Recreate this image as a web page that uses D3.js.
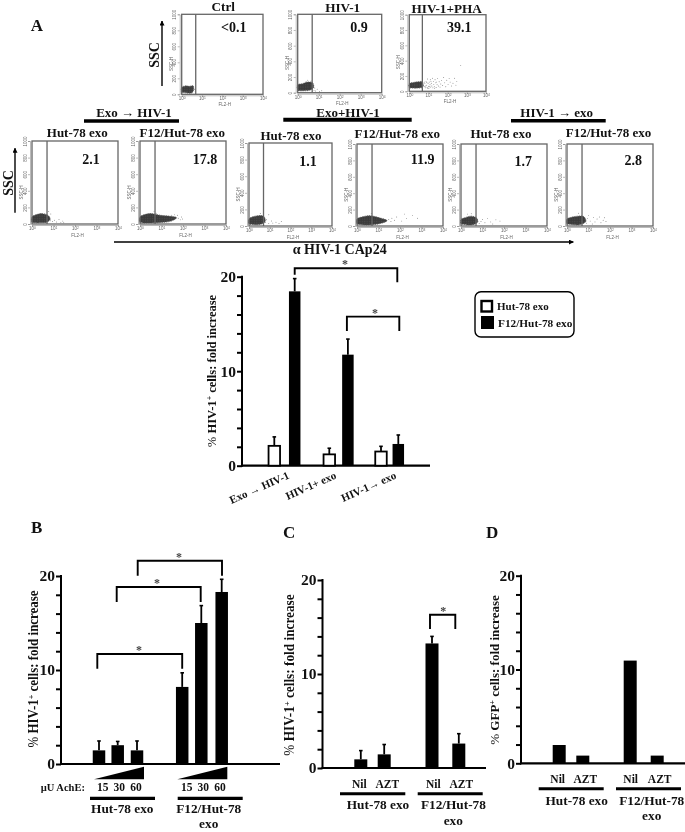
<!DOCTYPE html>
<html><head><meta charset="utf-8">
<script src="https://cdn.jsdelivr.net/npm/d3@7"></script>
<style>
html,body{margin:0;padding:0;background:#fff}
svg{display:block;filter:blur(0.35px)}
text{font-family:"Liberation Serif",serif;font-weight:bold;fill:#111}
.flow text{font-family:"Liberation Sans",sans-serif;font-weight:normal;fill:#666;font-size:4.5px}
.flow .domain,.flow line{stroke:#777;stroke-width:.5}
.bar .domain,.bar .tick line{stroke:#000;stroke-width:2}
</style></head><body><div id="c"></div>
<script>
// ---------- DATA ----------
const flowTitles = ["Ctrl","HIV-1","HIV-1+PHA","Hut-78 exo","F12/Hut-78 exo","Hut-78 exo","F12/Hut-78 exo","Hut-78 exo","F12/Hut-78 exo"];
const flowValues = ["<0.1","0.9","39.1","2.1","17.8","1.1","11.9","1.7","2.8"];
const flowGates = [4.9,4.9,4.8,5,5,5,5,5,5];
// density outlines and stray events, as [FL2-H, SSC-H]
const flowBlobs = [
 [[1.0,25],[1.0,85],[1.5,105],[2.4,100],[3.7,105],[3.8,50],[3.2,18],[2,15],[1.3,22]],
 [[1.0,35],[1.0,100],[1.7,115],[3,135],[5.2,125],[5.6,60],[3.5,30],[2,25],[1.3,25]],
 [[1.0,50],[1.0,100],[1.6,115],[3,125],[4.8,125],[5,55],[2.8,42],[1.5,42]],
 [[1.0,20],[1.0,85],[1.5,110],[3,125],[5.5,105],[7,60],[5,22],[2.6,14],[1.4,14]],
 [[1.0,20],[1.0,85],[1.5,110],[3.5,125],[9,105],[22,95],[50,75],[28,35],[9,18],[2.5,12],[1.4,12]],
 [[1.0,25],[1.0,85],[1.5,110],[3,125],[5.2,115],[6,55],[3.6,20],[2,15],[1.3,20]],
 [[1.0,25],[1.0,85],[1.7,110],[4,125],[11,100],[25,65],[12,30],[5,15],[2.2,12],[1.3,18]],
 [[1.0,25],[1.0,80],[1.5,100],[3,120],[5.2,100],[6,50],[3.5,15],[2,12],[1.3,20]],
 [[1.0,25],[1.0,85],[1.5,105],[3.2,120],[6,115],[7.5,55],[3.8,16],[2,15],[1.3,22]]
];
const flowDots = [
 [[4.2,60],[4.6,40]],
 [[6,30],[7,22],[8.5,45],[6.5,60],[11,16],[14,25],[5.6,85],[4.4,150],[3,160],[2.5,145]],
 [[6,60],[6.5,100],[7,45],[7.5,130],[8,80],[8.5,50],[9,160],[9.5,105],[10,65],[10.5,40],[11,120],[12,85],[12.5,150],[13,55],[14,105],[15,70],[16,170],[17,45],[18,130],[19,90],[20,60],[22,150],[24,110],[25,50],[28,85],[30,165],[33,70],[36,125],[40,55],[44,95],[48,140],[55,75],[62,180],[70,110],[80,60],[90,145],[105,90],[120,165],[135,120],[160,70],[190,105],[230,170],[270,80],[300,130],[480,335],[5.4,75],[6.2,120],[7.2,70],[8.2,115],[9.2,35],[11.5,60],[13.5,130],[21,35],[26,120]],
 [[6,150],[7,40],[9,30],[11,45],[14,25],[18,55],[22,20],[27,35],[30,15],[7.5,120]],
 [[4.5,155],[5.6,130],[60,70],[75,50],[85,85],[55,105],[40,110],[30,105],[95,60]],
 [[6.2,45],[7,75],[9,30],[9,135],[12,60],[14,35],[20,45],[28,30],[36,55],[5,155],[3.5,150]],
 [[4.6,150],[30,80],[38,55],[42,95],[55,70],[70,110],[120,60],[200,90],[380,130],[160,145],[650,95]],
 [[7,30],[8.5,55],[10,80],[13,40],[17,90],[24,50],[30,25],[42,75],[65,60],[3,150],[2,145]],
 [[8,35],[9,90],[10,130],[12,60],[15,25],[17,105],[20,50],[25,85],[32,110],[38,40],[48,70],[55,100],[65,55],[7.5,60],[3.5,155]]
];
const flowYTicks = [0,200,400,600,800,1000];
const flowXTicks = [1,10,100,1000,10000];
const flowSup = ["0","1","2","3","4"];

const groupHeadings = ["Exo → HIV-1","Exo+HIV-1","HIV-1 → exo"];
const bigArrowLabel = "α HIV-1 CAp24";
const panelLetters = ["A","B","C","D"];
const legendLabels = ["Hut-78 exo","F12/Hut-78 exo"];

const aCategories = ["Exo → HIV-1","HIV-1+ exo","HIV-1→ exo"];
const aHut = [2.1,1.2,1.5];
const aHutErr = [3.05,1.85,2.05];
const aF12 = [18.45,11.75,2.3];
const aF12Err = [19.8,13.4,3.25];

const bDoses = ["15","30","60"];
const bHut = [1.45,2.0,1.45];
const bHutErr = [2.45,2.4,2.45];
const bF12 = [8.2,15.0,18.3];
const bF12Err = [9.7,16.85,19.65];

const cdCategories = ["Nil","AZT"];
const cHut = [0.92,1.45];
const cHutErr = [1.85,2.5];
const cF12 = [13.25,2.6];
const cF12Err = [14.0,3.65];

const dHut = [1.95,0.82];
const dF12 = [10.95,0.82];

const axisTicks = [0,2,4,6,8,10,12,14,16,18,20];
const axisLabels = [0,10,20];

// ---------- LAYOUT ----------
const svg = d3.select("#c").append("svg").attr("width",685).attr("height",832).attr("viewBox","0 0 685 832");
const T=(x,y,s,size,anchor="middle",g=svg)=>g.append("text").attr("x",x).attr("y",y).attr("text-anchor",anchor).attr("font-size",size).text(s);
const rule=(x0,x1,y,w)=>svg.append("line").attr("x1",x0).attr("x2",x1).attr("y1",y).attr("y2",y).attr("stroke","#000").attr("stroke-width",w);

const defs=svg.append("defs");
defs.append("marker").attr("id","ah").attr("viewBox","0 0 10 10").attr("refX",9).attr("refY",5)
  .attr("markerWidth",5).attr("markerHeight",5).attr("markerUnits","userSpaceOnUse").attr("orient","auto")
  .append("path").attr("d","M0,0L10,5L0,10Z").attr("fill","#000");
const pat=defs.append("pattern").attr("id","speck").attr("width",2.4).attr("height",2.4).attr("patternUnits","userSpaceOnUse");
pat.append("rect").attr("width",2.4).attr("height",2.4).attr("fill","#3a3a3a");
pat.append("circle").attr("cx",.7).attr("cy",.7).attr("r",.35).attr("fill","#9a9a9a");
const arrow=(x0,y0,x1,y1,w=1.4)=>svg.append("line").attr("x1",x0).attr("y1",y0).attr("x2",x1).attr("y2",y1).attr("stroke","#000").attr("stroke-width",w).attr("marker-end","url(#ah)");

const flowBoxes=[[181.7,263,14.3,94.3],[297.7,381.7,14.3,92.7],[409.3,486,14.7,91.3],[32,118,141,224],[140,226,141,224],[249,332,143,226],[357,443,144,226],[461,547,144,226],[567,653,144,226]];
const titlePos=[[223.3,11.3],[342.7,12.3],[446.7,13.3],[77.3,137.3],[182.3,137],[291,140],[397.3,138.3],[501,138.3],[608.5,137.3]];
const valuePos=[[233.7,32],[359,32],[459.3,32],[91,164],[205,164],[308,166],[422.7,164.3],[523.3,166],[633.3,164.7]];

flowBoxes.forEach((b,i)=>{
  const [l,r,t,bt]=b, w=r-l, h=bt-t;
  const x=d3.scaleLog().domain([1,10000]).range([0,w]);
  const y=d3.scaleLinear().domain([0,1000]).range([h,0]);
  const g=svg.append("g").attr("class","flow").attr("transform",`translate(${l},${t})`);
  const xa=g.append("g").attr("transform",`translate(0,${h+1})`).call(d3.axisBottom(x).tickValues(flowXTicks).tickSize(1.5).tickPadding(.5).tickFormat(()=>"10"));
  xa.selectAll(".tick text").data(flowSup).append("tspan").attr("dy",-1).attr("font-size",3.3).text(d=>d);
  g.append("text").attr("x",w*0.53).attr("y",h+(i<3?12:13)).attr("text-anchor","middle").text("FL2-H");
  const ya=g.append("g").attr("transform","translate(-2,0)").call(d3.axisLeft(y).tickValues(flowYTicks).tickSize(2).tickPadding(1).tickFormat(d3.format("d")));
  ya.selectAll(".tick text").attr("transform","rotate(-90)").attr("text-anchor","middle").attr("x",0).attr("dy",0).attr("y",-3.5);
  g.append("text").attr("transform",`translate(-9,${h*0.62}) rotate(-90)`).attr("text-anchor","middle").text("SSC-H");
  const line=d3.line().x(d=>x(d[0])).y(d=>y(d[1])).curve(d3.curveCatmullRomClosed);
  g.append("path").attr("d",line(flowBlobs[i])).attr("fill","url(#speck)").attr("stroke","#555").attr("stroke-width",.9).attr("stroke-dasharray","1 .8");
  g.selectAll("circle.e").data(flowDots[i]).join("circle").attr("class","e").attr("cx",d=>x(d[0])).attr("cy",d=>y(d[1])).attr("r",.45).attr("fill","#555");
  g.append("rect").attr("width",w).attr("height",h).attr("fill","none").attr("stroke","#666").attr("stroke-width",1.3);
  g.append("line").attr("x1",x(flowGates[i])).attr("x2",x(flowGates[i])).attr("y1",0).attr("y2",h).style("stroke","#666").style("stroke-width",1.3);
  T(titlePos[i][0],titlePos[i][1],flowTitles[i],i<3?13.2:13);
  T(valuePos[i][0],valuePos[i][1],flowValues[i],14);
});

T(30.7,30.7,panelLetters[0],17,"start");
T(31,532.7,panelLetters[1],17,"start");
T(283,537.7,panelLetters[2],17,"start");
T(486,537.7,panelLetters[3],17,"start");

// SSC arrows
svg.append("text").attr("transform","translate(158.5,55) rotate(-90)").attr("text-anchor","middle").attr("font-size",14).text("SSC");
arrow(162,86,162,21);
svg.append("text").attr("transform","translate(12.5,183) rotate(-90)").attr("text-anchor","middle").attr("font-size",14).text("SSC");
arrow(15,212.7,15,148.3);

// group headings
T(134,117.3,groupHeadings[0],13); rule(84,179,121,3.5);
T(348,117.3,groupHeadings[1],13); rule(283.3,411.7,119.8,4);
T(556.7,117.3,groupHeadings[2],13); rule(511,605.7,120.7,3.5);

arrow(114,242,573.3,242,1.3);
T(339.7,254,bigArrowLabel,14);

// ---------- BAR CHARTS ----------
function barChart(o){
  const y=d3.scaleLinear().domain([0,20]).range([o.y0,o.y20]);
  const g=svg.append("g").attr("class","bar");
  const keys=o.keys;
  const x=d3.scaleOrdinal().domain(keys).range(o.centres);
  g.append("g").attr("transform",`translate(${o.ax},0)`).call(d3.axisLeft(y).tickValues(axisTicks).tickSize(5).tickPadding(1)
     .tickFormat(d=>axisLabels.includes(d)?d:"").tickSizeOuter(0))
     .call(s=>s.selectAll("text").attr("font-size",15.5).style("font-family",'"Liberation Serif",serif'))
     .call(s=>s.select(".domain").attr("d",`M0,${o.y20-1}V${o.y0+1}`));
  g.append("line").attr("x1",o.ax-1).attr("x2",o.axEnd).attr("y1",y(0)).attr("y2",y(0)).attr("stroke","#000").attr("stroke-width",2.2);
  const rows=keys.map((k,i)=>({k,v:o.vals[i],e:o.errs?o.errs[i]:null,fill:o.fills?o.fills[i]:"#000"}));
  const bw=o.bw;
  g.selectAll("line.err").data(rows.filter(d=>d.e!=null)).join("line").attr("class","err")
    .attr("x1",d=>x(d.k)).attr("x2",d=>x(d.k)).attr("y1",d=>y(d.v)).attr("y2",d=>y(d.e)).attr("stroke","#000").attr("stroke-width",1.8);
  g.selectAll("line.cap").data(rows.filter(d=>d.e!=null)).join("line").attr("class","cap")
    .attr("x1",d=>x(d.k)-1.8).attr("x2",d=>x(d.k)+1.8).attr("y1",d=>y(d.e)).attr("y2",d=>y(d.e)).attr("stroke","#000").attr("stroke-width",1.6);
  g.selectAll("rect.b").data(rows).join("rect").attr("class","b")
    .attr("x",d=>x(d.k)-bw/2).attr("width",bw).attr("y",d=>y(d.v)).attr("height",d=>y(0)-y(d.v))
    .attr("fill",d=>d.fill).attr("stroke","#000").attr("stroke-width",d=>d.fill==="#000"?0:1.8);
  (o.brackets||[]).forEach(b=>{
    const x0=x(b.a)+(b.da||0), x1=x(b.b)+(b.db||0);
    g.append("path").attr("fill","none").attr("stroke","#000").attr("stroke-width",1.9)
      .attr("d",`M${x0},${y(b.l0)}V${y(b.top)}H${x1}V${y(b.l1)}`);
    g.append("text").attr("x",b.sx).attr("y",y(b.top)).attr("text-anchor","middle").attr("font-size",12).style("fill","#444").text("*");
  });
  const lab=svg.append("text").attr("transform",`translate(${o.lx},${o.ly}) rotate(-90) scale(${o.lsx},1)`).attr("text-anchor","middle").attr("font-size",o.ls);
  lab.append("tspan").text("% ").attr("font-weight","normal");
  lab.append("tspan").text(o.lmarker);
  lab.append("tspan").text("+").attr("font-size",o.ls*0.62).attr("dy",-4);
  lab.append("tspan").text(" cells: fold increase").attr("dy",4);
  return {x,y};
}

// A
const aKeys=aCategories.flatMap(c=>[c+"|Hut",c+"|F12"]);
barChart({keys:aKeys,centres:[274.3,294.7,329.3,347.9,381,398.3],bw:11.5,ax:242,axEnd:430,y0:465.7,y20:276.7,
  vals:aCategories.flatMap((c,i)=>[aHut[i],aF12[i]]),errs:aCategories.flatMap((c,i)=>[aHutErr[i],aF12Err[i]]),
  fills:aCategories.flatMap(()=>["#fff","#000"]),
  brackets:[{a:aKeys[1],b:aKeys[5],da:0,db:-1,top:20.9,l0:20.2,l1:19.4,sx:345},{a:aKeys[3],b:aKeys[5],da:-1,db:1,top:15.77,l0:14.25,l1:14.25,sx:375}],
  lx:216,ly:371,ls:13.5,lsx:.93,lmarker:"HIV-1"});
[[290,473],[337,473],[397,473]].forEach((p,i)=>{
  svg.append("text").attr("transform",`translate(${p[0]},${p[1]+5}) rotate(-24)`).attr("text-anchor","end").attr("font-size",11).text(aCategories[i]);
});
// legend
svg.append("rect").attr("x",475).attr("y",291.7).attr("width",99).attr("height",45.3).attr("rx",6).attr("fill","none").attr("stroke","#000").attr("stroke-width",1.4);
svg.append("rect").attr("x",481.5).attr("y",301).attr("width",10.5).attr("height",10.5).attr("fill","#fff").attr("stroke","#000").attr("stroke-width",2.4);
svg.append("rect").attr("x",481).attr("y",316).attr("width",13).attr("height",13).attr("fill","#000");
T(497,310,legendLabels[0],11,"start");
T(498,327,legendLabels[1],11.3,"start");

// B
const bKeys=["Hut","F12"].flatMap(g=>bDoses.map(d=>g+d));
barChart({keys:bKeys,centres:[99,117.7,137,182.2,201.3,221.7],bw:12.5,ax:61,axEnd:280,y0:764,y20:576,
  vals:[...bHut,...bF12],errs:[...bHutErr,...bF12Err],
  brackets:[{a:bKeys[0],b:bKeys[3],da:-1.7,db:0,top:11.7,l0:10.14,l1:10.14,sx:139},{a:bKeys[1],b:bKeys[4],da:-1,db:-.6,top:18.83,l0:17.23,l1:17.23,sx:157},{a:bKeys[2],b:bKeys[5],da:.7,db:.3,top:21.63,l0:20.03,l1:20.03,sx:179}],
  lx:38,ly:669,ls:13.7,lsx:.945,lmarker:"HIV-1"});
const tri=(x0,x1,yb,yt)=>svg.append("path").attr("d",`M${x0},${yb}L${x1},${yt}V${yb}Z`).attr("fill","#000");
tri(94,144,779.3,766.7); tri(177.3,227.3,779.3,766.7);
T(40.7,791,"µU AchE:",10.5,"start");
[[102.7,119.3,136],[186.7,203.3,220]].forEach(r=>r.forEach((x,i)=>T(x,791,bDoses[i],11.5)));
rule(90,155,798.3,3.2); rule(177.7,242.7,798.3,3.2);
T(122.3,813.3,legendLabels[0],13.3);
T(208.7,813.3,"F12/Hut-78",13.3); T(208.7,828,"exo",13.3);

// C
const cKeys=["Hut","F12"].flatMap(g=>cdCategories.map(d=>g+d));
barChart({keys:cKeys,centres:[360.8,384.2,432,458.8],bw:13,ax:322.5,axEnd:486,y0:768,y20:580,
  vals:[...cHut,...cF12],errs:[...cHutErr,...cF12Err],
  brackets:[{a:cKeys[2],b:cKeys[3],da:-2,db:-3.5,top:16.3,l0:14.8,l1:14.8,sx:443.3}],
  lx:294,ly:675,ls:13.7,lsx:.97,lmarker:"HIV-1"});
[359.3,387.3,433.3,461.3].forEach((x,i)=>T(x,787.7,cdCategories[i%2],11.5));
rule(340,405.3,793.7,3); rule(417.7,482.7,793.7,3);
T(378,809,legendLabels[0],13.3);
T(453.4,809,"F12/Hut-78",13.3); T(453.3,825,"exo",13.3);

// D
const dKeys=["Hut","F12"].flatMap(g=>cdCategories.map(d=>g+d));
barChart({keys:dKeys,centres:[559.2,582.8,630.2,657.2],bw:13,ax:521,axEnd:685,y0:763.3,y20:575.7,
  vals:[...dHut,...dF12],
  lx:499,ly:670,ls:13,lsx:1,lmarker:"GFP"});
[557.7,585.3,630.7,659.7].forEach((x,i)=>T(x,783.3,cdCategories[i%2],11.5));
rule(538.7,603.7,788.7,3); rule(616,681,788.7,3);
T(576.7,805,legendLabels[0],13.3);
T(651.7,805,"F12/Hut-78",13.3); T(651.7,820,"exo",13.3);
</script></body></html>
